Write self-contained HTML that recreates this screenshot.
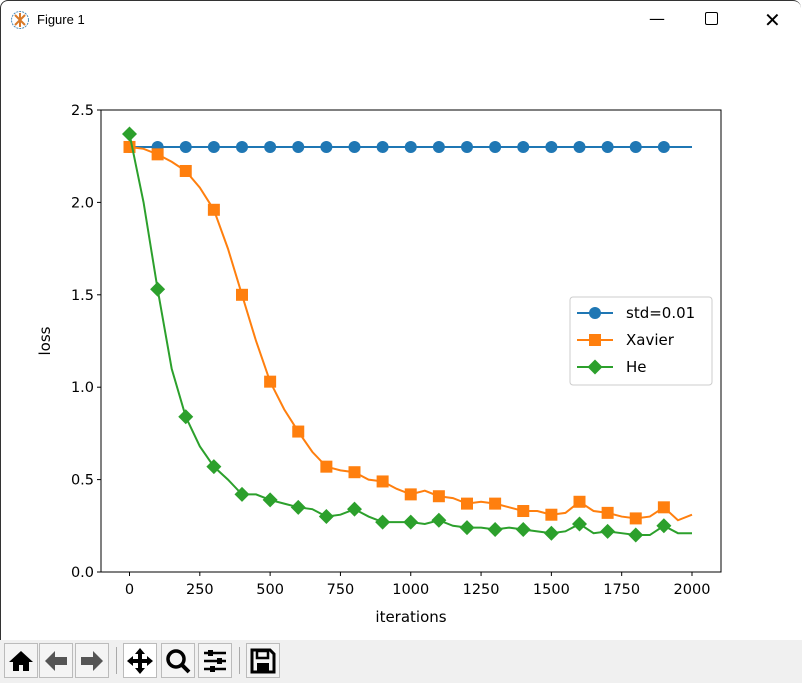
<!DOCTYPE html>
<html><head><meta charset="utf-8"><style>
body{margin:0;width:802px;height:683px;overflow:hidden;background:#fff;font-family:"DejaVu Sans","Liberation Sans",sans-serif;position:relative}
#win{position:absolute;left:0;top:0;width:801px;height:683px;border-left:1px solid #333;border-top:1px solid #333;box-sizing:border-box;border-radius:8px 8px 0 0;background:#fff}
#title{position:absolute;left:36px;top:11px;font-size:13px;font-family:"Liberation Sans",sans-serif;color:#000}
.tb{position:absolute;top:0;font-size:16px;color:#000}
#toolbar{position:absolute;left:0;top:640px;width:802px;height:43px;background:#f0f0f0}
.btn{position:absolute;top:3px;width:34px;height:35px;background:#f4f4f4;border:1px solid #bbb;box-sizing:border-box;font-size:22px;text-align:center;line-height:33px;color:#000}
.sep{position:absolute;top:7px;width:1px;height:27px;background:#aaa}
</style></head><body>
<div id="win">
<svg style="position:absolute;left:9px;top:9px" width="20" height="20"><circle cx="10" cy="10" r="8.5" fill="none" stroke="#4a8ab8" stroke-dasharray="2 1"/><path d="M5 5L15 15M15 5L5 15M10 3V17" stroke="#d87a2a" stroke-width="2"/></svg>
<div id="title">Figure 1</div>
<div class="tb" style="left:648px;top:8px">&#8212;</div>
<div class="tb" style="left:704px;top:11px;width:11px;height:11px;border:1.3px solid #000;border-radius:2px"></div>
<div class="tb" style="left:763px;top:7px;font-size:20px">&#10005;</div>
</div>
<svg id="chart" width="802" height="683" style="position:absolute;left:0;top:0"></svg>
<div id="toolbar">
<div class="btn" style="left:4px"><svg width="26" height="24" style="margin-top:5px"><path d="M13 2L1 13H5V22H11V16H15V22H21V13H25Z" fill="#000"/></svg></div>
<div class="btn" style="left:39px"><svg width="26" height="24" style="margin-top:5px"><path d="M2 12L12 2V8H24V16H12V22Z" fill="#555"/></svg></div>
<div class="btn" style="left:75px"><svg width="26" height="24" style="margin-top:5px"><path d="M24 12L14 2V8H2V16H14V22Z" fill="#555"/></svg></div>
<div class="sep" style="left:116px"></div>
<div class="btn" style="left:123px;background:#fff"><svg width="28" height="28" style="margin-top:3px"><path d="M14 1L19 7H16V12H21V9L27 14L21 19V16H16V21H19L14 27L9 21H12V16H7V19L1 14L7 9V12H12V7H9Z" fill="#000"/></svg></div>
<div class="btn" style="left:161px"><svg width="28" height="28" style="margin-top:3px"><circle cx="12" cy="12" r="8" fill="none" stroke="#000" stroke-width="3.5"/><path d="M18 18L25 25" stroke="#000" stroke-width="4"/></svg></div>
<div class="btn" style="left:198px"><svg width="28" height="28" style="margin-top:3px"><path d="M3 6H25M3 14H25M3 22H25" stroke="#000" stroke-width="2.5"/><rect x="7" y="3" width="5" height="6" fill="#000"/><rect x="16" y="11" width="5" height="6" fill="#000"/><rect x="9" y="19" width="5" height="6" fill="#000"/></svg></div>
<div class="sep" style="left:239px"></div>
<div class="btn" style="left:246px"><svg width="28" height="28" style="margin-top:3px"><path d="M3 3H21L25 7V25H3Z" fill="none" stroke="#000" stroke-width="3"/><rect x="8" y="4" width="11" height="7" fill="none" stroke="#000" stroke-width="2.5"/><rect x="8" y="16" width="12" height="8" fill="#000"/></svg></div>
</div>
<script>
const markerIters=[0,100,200,300,400,500,600,700,800,900,1000,1100,1200,1300,1400,1500,1600,1700,1800,1900,2000];
const stdValues=[2.30,2.30,2.30,2.30,2.30,2.30,2.30,2.30,2.30,2.30,2.30,2.30,2.30,2.30,2.30,2.30,2.30,2.30,2.30,2.30,2.30];
const xavierValues=[2.30,2.26,2.17,1.96,1.50,1.03,0.76,0.57,0.54,0.49,0.42,0.41,0.37,0.37,0.33,0.31,0.38,0.32,0.29,0.35,0.31];
const heValues=[2.37,1.53,0.84,0.57,0.42,0.39,0.35,0.30,0.34,0.27,0.27,0.28,0.24,0.23,0.23,0.21,0.26,0.22,0.20,0.25,0.21];
const midIters=[50,150,250,350,450,550,650,750,850,950,1050,1150,1250,1350,1450,1550,1650,1750,1850,1950];
const xavierMid=[2.29,2.22,2.08,1.75,1.25,0.88,0.65,0.55,0.50,0.45,0.44,0.40,0.38,0.35,0.33,0.32,0.33,0.30,0.30,0.28];
const heMid=[2.00,1.10,0.68,0.50,0.42,0.37,0.34,0.31,0.30,0.27,0.26,0.25,0.24,0.24,0.22,0.22,0.21,0.21,0.20,0.21];
const stdMid=[2.30,2.30,2.30,2.30,2.30,2.30,2.30,2.30,2.30,2.30,2.30,2.30,2.30,2.30,2.30,2.30,2.30,2.30,2.30,2.30];
const xTicks=[0,250,500,750,1000,1250,1500,1750,2000];
const yTicks=[0.0,0.5,1.0,1.5,2.0,2.5];
const yTickLabels=["0.0","0.5","1.0","1.5","2.0","2.5"];

const L=101,R=721,T=110,B=572;
const X=v=>129.5+v*(692-129.5)/2000;
const Y=v=>B-v*(B-T)/2.5;
const svg=document.getElementById('chart');
const NS='http://www.w3.org/2000/svg';
function mk(t,a){const e=document.createElementNS(NS,t);for(const k in a)e.setAttribute(k,a[k]);svg.appendChild(e);return e;}
function merge(a,b,ma,mb){const pts=[];a.forEach((x,i)=>pts.push([x,ma[i]]));b.forEach((x,i)=>pts.push([x,mb[i]]));return pts.sort((p,q)=>p[0]-q[0]);}

let ax=mk('rect',{x:L,y:T,width:R-L,height:B-T,fill:'none',stroke:'#000','stroke-width':1});


xTicks.forEach(v=>{
  const t=mk('line',{x1:X(v),x2:X(v),y1:B,y2:B+4,stroke:'#000'});
  
  
  const l=mk('text',{x:X(v),y:B+22,'text-anchor':'middle','font-size':14.5});
  l.textContent=v;
  
  
});
yTicks.forEach((v,i)=>{
  const t=mk('line',{x1:L-4,x2:L,y1:Y(v),y2:Y(v),stroke:'#000'});
  
  
  const l=mk('text',{x:L-7,y:Y(v)+5,'text-anchor':'end','font-size':14.5});
  l.textContent=yTickLabels[i];
  
  
});
let xt=mk('text',{x:411,y:622,'text-anchor':'middle','font-size':15});
xt.textContent='iterations';


let yt=mk('text',{x:50,y:341,'text-anchor':'middle','font-size':15,transform:'rotate(-90 50 341)'});
yt.textContent='loss';



function marker(type,cx,cy,c){
  if(type==='o')return mk('circle',{cx,cy,r:6,fill:c});
  if(type==='s')return mk('rect',{x:cx-6,y:cy-6,width:12,height:12,fill:c});
  return mk('path',{d:`M${cx} ${cy-7.5}L${cx+7.5} ${cy}L${cx} ${cy+7.5}L${cx-7.5} ${cy}Z`,fill:c});
}
const series=[
 {name:'std',c:'#1f77b4',m:'o',v:stdValues,mid:stdMid},
 {name:'xavier',c:'#ff7f0e',m:'s',v:xavierValues,mid:xavierMid},
 {name:'he',c:'#2ca02c',m:'d',v:heValues,mid:heMid}];
series.forEach(s=>{
  const pts=merge(markerIters,midIters,s.v,s.mid);
  const p=mk('polyline',{points:pts.map(q=>X(q[0])+','+Y(q[1])).join(' '),fill:'none',stroke:s.c,'stroke-width':2});
  
  
  markerIters.forEach((it,i)=>{
    if(it===2000)return;
    const m=marker(s.m,X(it),Y(s.v[i]),s.c);
    
    
  });
});
let lg=mk('rect',{x:570,y:297,width:142,height:88,rx:3,fill:'#fff','fill-opacity':0.8,stroke:'#ccc'});


const labels=['std=0.01','Xavier','He'];
series.forEach((s,i)=>{
  const y=313+i*27;
  const l=mk('line',{x1:577,x2:613,y1:y,y2:y,stroke:s.c,'stroke-width':2});
  
  
  const m=marker(s.m,595,y,s.c);
  
  
  const t=mk('text',{x:626,y:y+5,'font-size':15});
  t.textContent=labels[i];
  
  
});
</script>
</body></html>
